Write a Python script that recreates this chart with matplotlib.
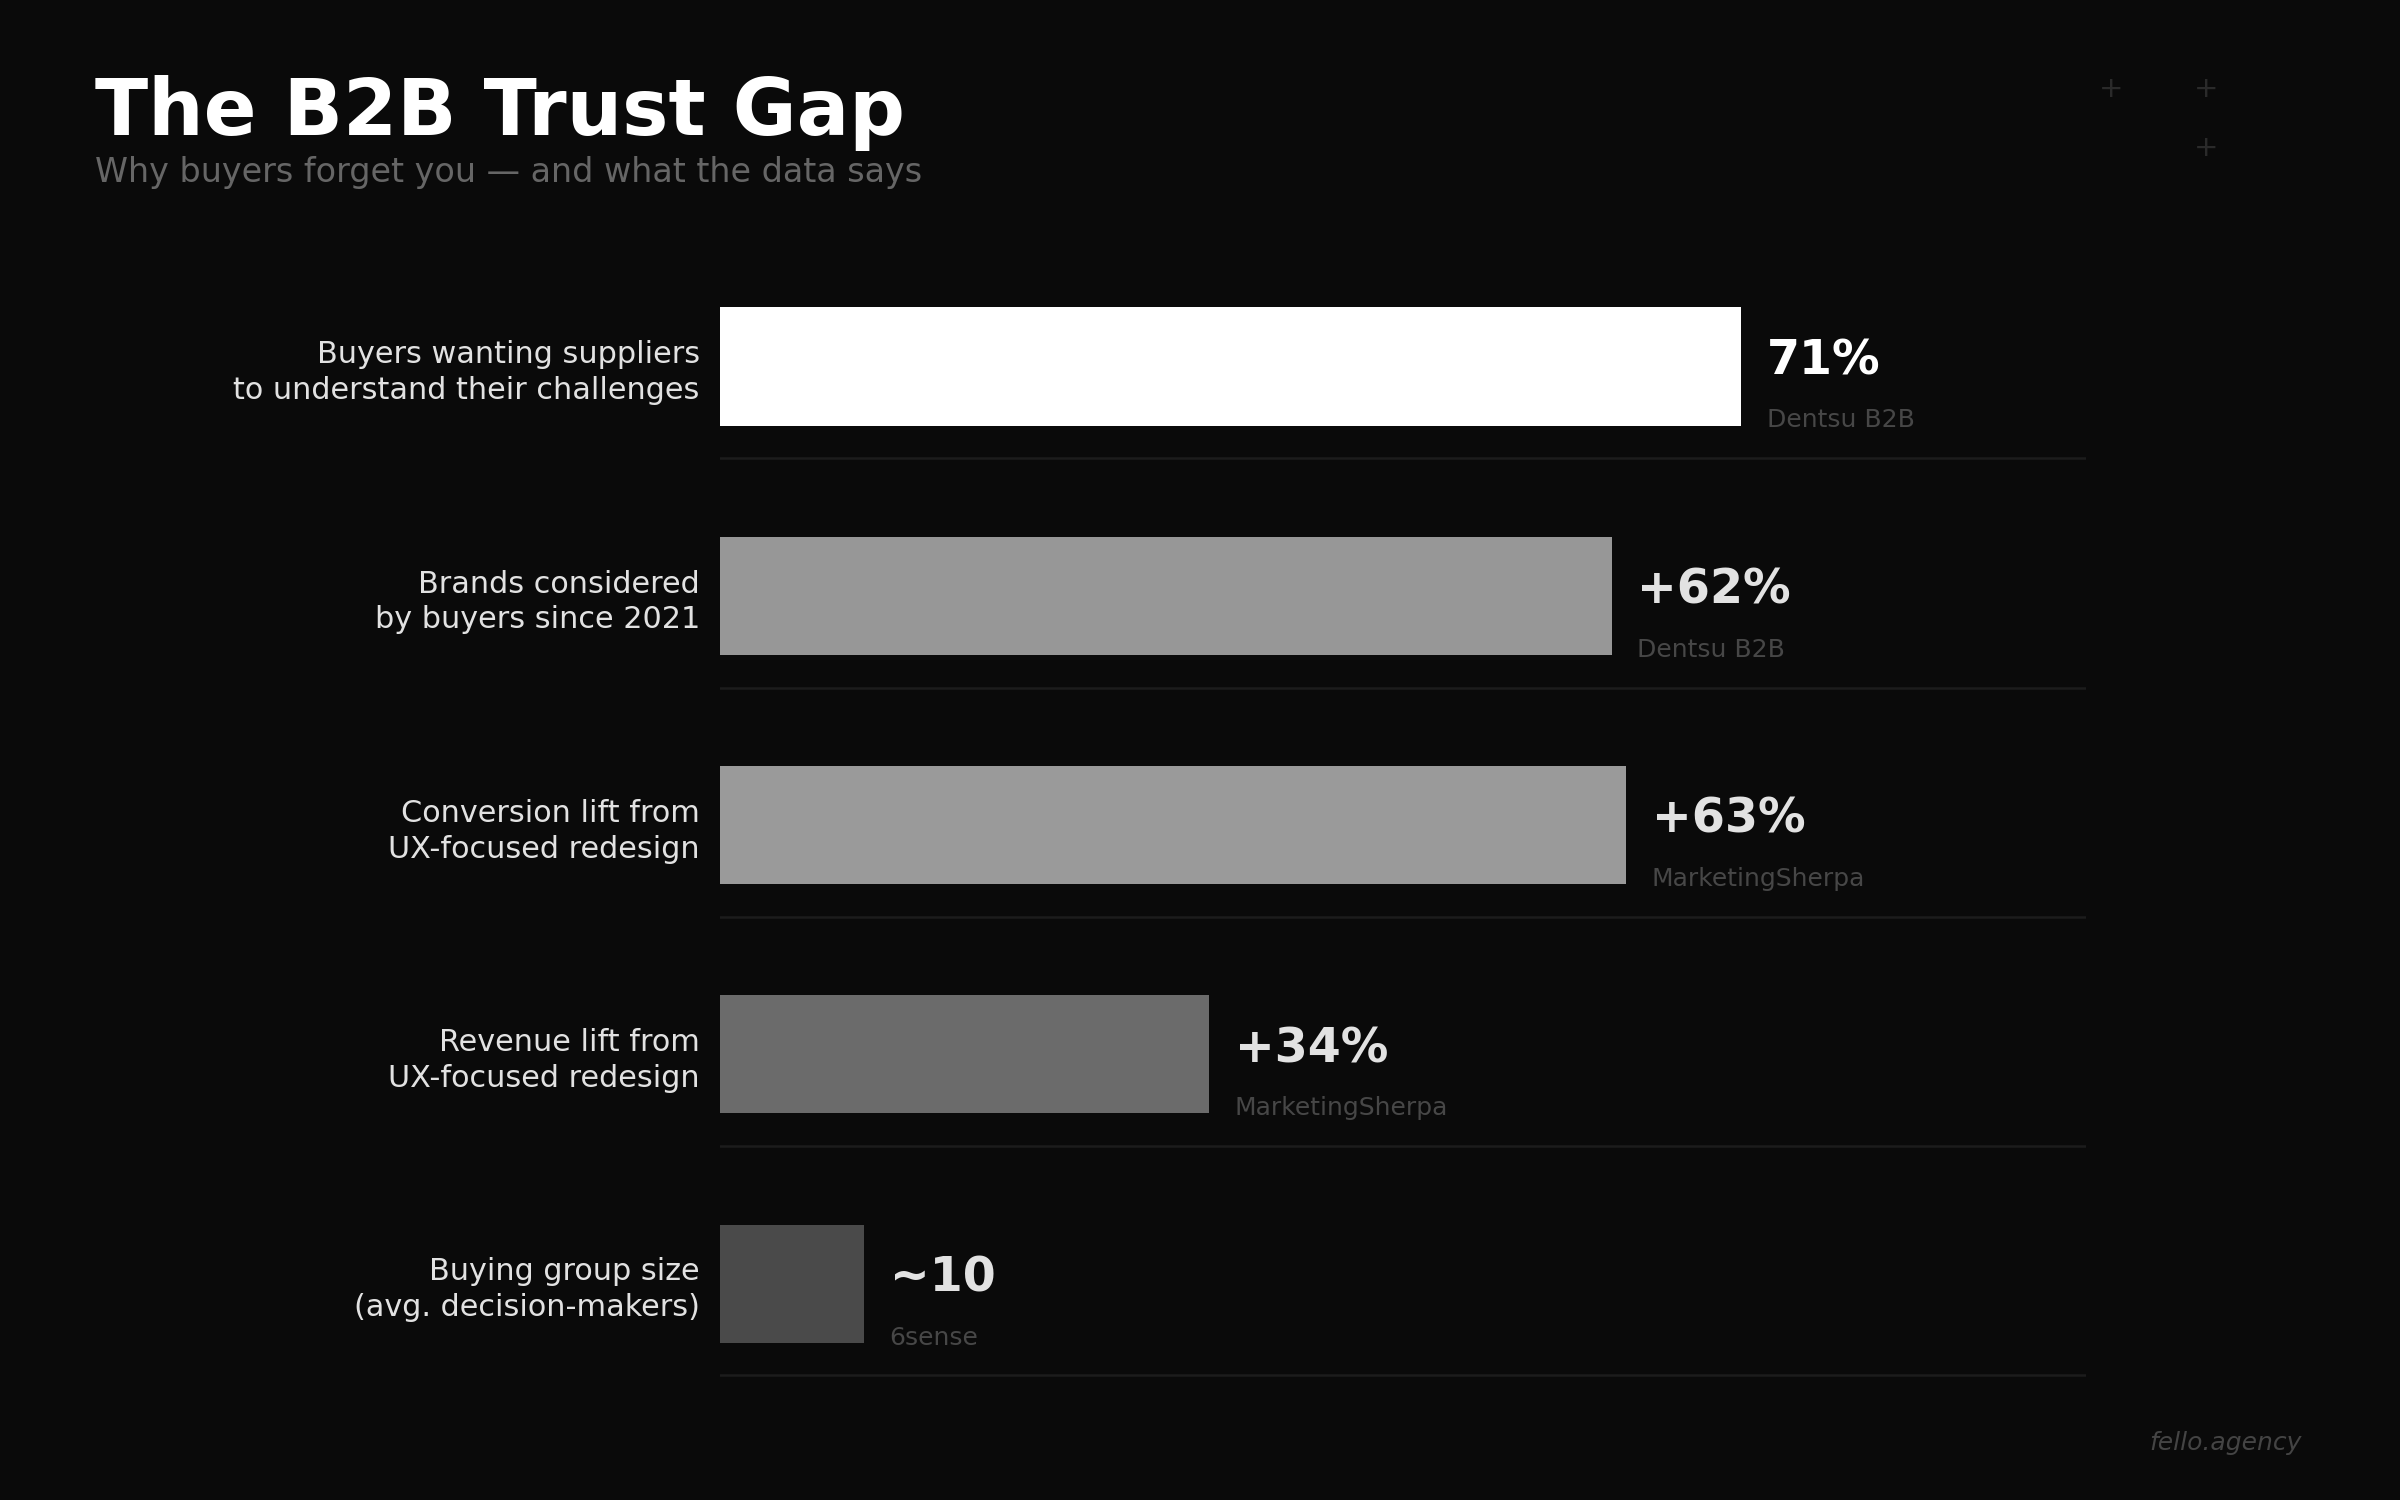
import matplotlib.pyplot as plt

# data
categories = [
    "Buyers wanting suppliers\nto understand their challenges",
    "Brands considered\nby buyers since 2021",
    "Conversion lift from\nUX-focused redesign",
    "Revenue lift from\nUX-focused redesign",
    "Buying group size\n(avg. decision-makers)",
]
values = [71, 62, 63, 34, 10]
value_labels = ["71%", "+62%", "+63%", "+34%", "~10"]
sources = ["Dentsu B2B", "Dentsu B2B", "MarketingSherpa", "MarketingSherpa", "6sense"]

bar_colors = ["#ffffff", "#979797", "#9a9a9a", "#6b6b6b", "#4a4a4a"]
value_colors = ["#ffffff", "#e2e2e2", "#e2e2e2", "#e2e2e2", "#e2e2e2"]
bg = "#0a0a0a"

fig = plt.figure(figsize=(16, 10), dpi=150, facecolor=bg)
ax = fig.add_axes([0.3, 0.0678, 0.5692, 0.7643])
ax.set_facecolor(bg)

rows = list(range(len(values)))
ax.barh(rows, values, height=0.515, color=bar_colors, zorder=2)

for i, (v, lab, src) in enumerate(zip(values, value_labels, sources)):
    ax.text(v + 1.8, i - 0.025, lab, color=value_colors[i], fontsize=22.8,
            fontweight="bold", va="center", ha="left")
    ax.text(v + 1.8, i + 0.235, src, color="#474747", fontsize=12,
            va="center", ha="left")
    ax.axhline(i + 0.4, color="#1c1c1c", lw=1.2, zorder=1)
    ax.text(-1.4, i + 0.027, categories[i], color="#e2e2e2", fontsize=14.5,
            ha="right", va="center", linespacing=1.3)

ax.set_xlim(0, 95)
ax.set_ylim(4.5, -0.5)
ax.axis("off")

fig.text(95 / 2400, 1 - 135 / 1500, "The B2B Trust Gap", color="#ffffff",
         fontsize=37.4, fontweight="bold", ha="left", va="baseline")
fig.text(95 / 2400, 1 - 182 / 1500, "Why buyers forget you \u2014 and what the data says",
         color="#666666", fontsize=16, ha="left", va="baseline")

for px, py in [(2111, 89), (2206, 89), (2206, 148)]:
    fig.text(px / 2400, 1 - py / 1500, "+", color="#2a2a2a", fontsize=14,
             ha="center", va="center")

fig.text(2302 / 2400, 1 - 1450 / 1500, "fello.agency", color="#444444",
         fontsize=12, style="italic", ha="right", va="baseline")

fig.savefig("out.png", dpi=150, facecolor=bg)
